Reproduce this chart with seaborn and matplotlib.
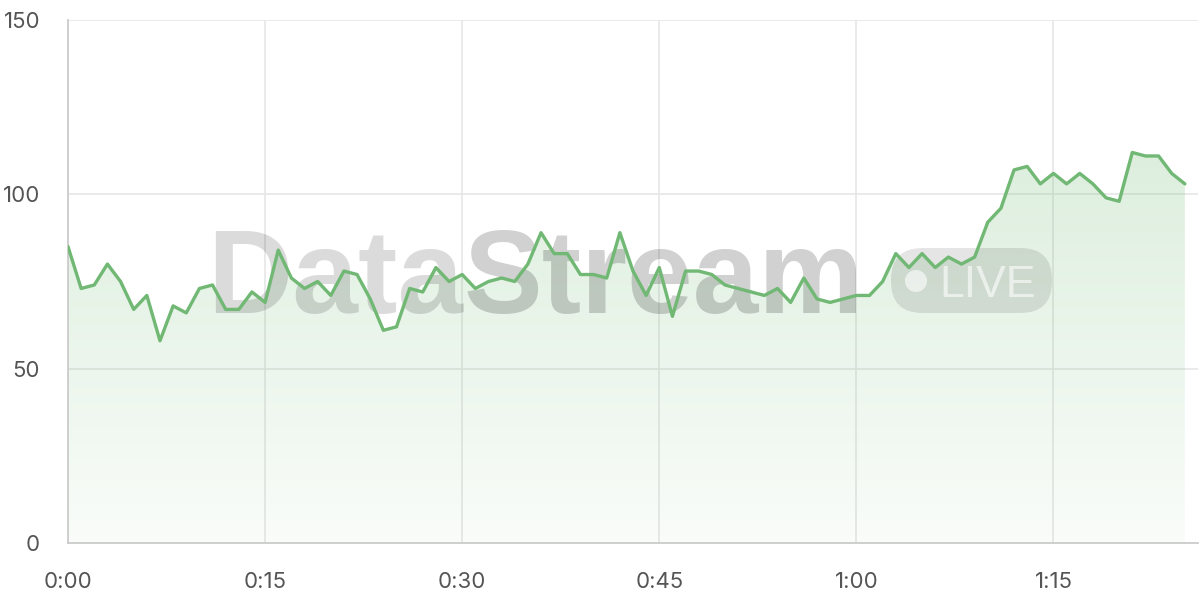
import numpy as np
import pandas as pd
import matplotlib
matplotlib.use("Agg")
import matplotlib.pyplot as plt
import seaborn as sns
from matplotlib.patches import FancyBboxPatch, Ellipse
from matplotlib.colors import LinearSegmentedColormap

# ---- data ----
minutes = list(range(86))
values = [85, 73, 74, 80, 75, 67, 71, 58, 68, 66,
          73, 74, 67, 67, 72, 69, 84, 76, 73, 75,
          71, 78, 77, 70, 61, 62, 73, 72, 79, 75,
          77, 73, 75, 76, 75, 80, 89, 83, 83, 77,
          77, 76, 89, 78, 71, 79, 65, 78, 78, 77,
          74, 73, 72, 71, 73, 69, 76, 70, 69, 70,
          71, 71, 75, 83, 79, 83, 79, 82, 80, 82,
          92, 96, 107, 108, 103, 106, 103, 106, 103, 99,
          98, 112, 111, 111, 106, 103]
x_ticks = [0, 15, 30, 45, 60, 75]
x_tick_labels = ["0:00", "0:15", "0:30", "0:45", "1:00", "1:15"]
y_ticks = [0, 50, 100, 150]
watermark_main = ["Data", "Stream"]
watermark_badge = "LIVE"

df = pd.DataFrame({"minute": minutes, "value": values})

sns.set_theme(style="white")
plt.rcParams['font.family'] = ['Inter', 'DejaVu Sans']

fig = plt.figure(figsize=(12, 6), dpi=100)
W, H = 1130, 523
ax = fig.add_axes([68/1200, 57/600, W/1200, H/600])
ax.set_xlim(0, 86)
ax.set_ylim(0, 150)

line_color = "#70b874"

# gradient fill under line
poly = ax.fill_between(df["minute"], df["value"], 0, color="none", lw=0, zorder=1)
grad = np.linspace(0, 1, 256).reshape(-1, 1)
cmap = LinearSegmentedColormap.from_list("g", [(0.43, 0.72, 0.44, 0.04), (0.43, 0.72, 0.44, 0.24)])
img = ax.imshow(grad, aspect="auto", cmap=cmap, origin="lower",
                extent=[0, 86, 0, 115], zorder=1, interpolation="bilinear")
img.set_clip_path(poly.get_paths()[0], transform=ax.transData)
ax.set_xlim(0, 86)
ax.set_ylim(0, 150)

# watermark (baseline placed at pixel row ~313)
wm_base = (543 - 313) / H
t1 = ax.text((207-68)/W, wm_base, watermark_main[0], transform=ax.transAxes, fontsize=85,
             fontweight="bold", color="black", alpha=0.14, ha="left", va="baseline",
             family=["Liberation Sans", "DejaVu Sans"], zorder=2)
fig.canvas.draw()
bb = t1.get_window_extent()
x_end = ax.transAxes.inverted().transform((bb.x1, bb.y0))[0]
ax.text(x_end, wm_base, watermark_main[1], transform=ax.transAxes, fontsize=85,
        fontweight="bold", color="black", alpha=0.18, ha="left", va="baseline",
        family=["Liberation Sans", "DejaVu Sans"], zorder=2)

# LIVE badge
bx0, bx1 = (891-68)/W, (1052-68)/W
by0, by1 = (543-313)/H, (543-248)/H
badge = FancyBboxPatch((bx0, by0), bx1-bx0, by1-by0,
                       boxstyle="round,pad=0,rounding_size=0.028",
                       transform=ax.transAxes, facecolor="black", alpha=0.10,
                       edgecolor="none", zorder=2, mutation_aspect=W/H)
ax.add_patch(badge)
ax.add_patch(Ellipse(((916-68)/W, (543-281)/H), 22/W, 22/H, transform=ax.transAxes,
                     facecolor="white", alpha=0.6, edgecolor="none", zorder=2))
ax.text((939-68)/W, (543-297)/H, watermark_badge, transform=ax.transAxes,
        fontsize=32, color="white", alpha=0.6, ha="left", va="baseline",
        family=["Liberation Sans", "DejaVu Sans"], zorder=2)

sns.lineplot(data=df, x="minute", y="value", ax=ax, color=line_color,
             linewidth=2.4, zorder=3)

ax.set_xticks(x_ticks)
ax.set_xticklabels(x_tick_labels)
ax.set_yticks(y_ticks)
ax.set_yticklabels([str(v) for v in y_ticks])
ax.set_xlabel("")
ax.set_ylabel("")
ax.grid(True, color="#e6e6e6", linewidth=1.2, zorder=0)
ax.set_axisbelow(True)
for s in ["top", "right"]:
    ax.spines[s].set_visible(False)
for s in ["left", "bottom"]:
    ax.spines[s].set_color("#cccccc")
    ax.spines[s].set_linewidth(1.3)
ax.tick_params(axis="both", which="both", length=12, width=1.2, color="#e6e6e6",
               labelsize=16, labelcolor="#555555", pad=8)
ax.tick_params(axis="x", pad=9)

fig.savefig("out.png", dpi=100)
